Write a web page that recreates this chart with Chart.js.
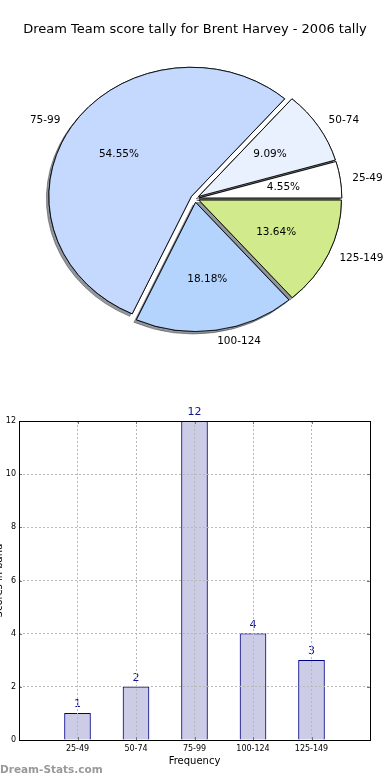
<!DOCTYPE html>
<html>
<head>
<meta charset="utf-8">
<script src="https://cdn.jsdelivr.net/npm/chart.js@4.4.1/dist/chart.umd.min.js"></script>
<style>
    body { margin: 0; background: #fff; }
    #wrap { position: relative; width: 390px; height: 780px; }
    canvas { display: block; }
    #mark {
        position: absolute; left: 0; top: 763px;
        font: bold 10.5px "DejaVu Sans"; line-height: 13px; color: #999;
    }
</style>
</head>
<body>
<div id="wrap">
    <canvas id="pieCanvas" width="390" height="390"></canvas>
    <canvas id="barCanvas" width="390" height="390"></canvas>
    <div id="mark">Dream-Stats.com</div>
</div>
<script>
// Dados
const bands = ['25-49', '50-74', '75-99', '100-124', '125-149'];
const counts = [1, 2, 12, 4, 3];
const yTicks = [0, 2, 4, 6, 8, 10, 12];

// Cores
const pieColours = ['#ffffff', '#e9f0fe', '#c5d9fe', '#b4d4fe', '#d0ea8c'];
const titleText = 'Dream Team score tally for Brent Harvey - 2006 tally';

const FONT = 'DejaVu Sans';
const Y_SQUASH = 0.906;   // a pizza original é elíptica
const EXPLODE = 4.3;

// o Chart.js desenha no sentido horário, então inverte a ordem
const pieLabels = bands.slice().reverse();
const pieValues = counts.slice().reverse();
const pieFill = pieColours.slice().reverse();
const total = counts.reduce((a, b) => a + b, 0);

// Plugin: achata, explode, sombra e rótulos da pizza
const pieLook = {
    id: 'pieLook',
    beforeDatasetsDraw(chart) {
        const ctx = chart.ctx;
        const arcs = chart.getDatasetMeta(0).data;
        const cx = arcs[0].x, cy = arcs[0].y;
        const pass = (shadow) => {
            arcs.forEach((arc) => {
                const mid = (arc.startAngle + arc.endAngle) / 2;
                ctx.save();
                if (shadow) {
                    ctx.shadowColor = 'rgba(40,45,55,0.5)';
                    ctx.shadowOffsetX = -2.5;
                    ctx.shadowOffsetY = 2.5;
                    ctx.shadowBlur = 0.5;
                }
                ctx.translate(cx, cy);
                ctx.scale(1, Y_SQUASH);
                ctx.translate(-cx, -cy);
                ctx.translate(Math.cos(mid) * EXPLODE, Math.sin(mid) * EXPLODE);
                arc.draw(ctx);
                ctx.restore();
            });
        };
        pass(true);
        pass(false);
        return false;
    },
    afterDraw(chart) {
        const ctx = chart.ctx;
        const arcs = chart.getDatasetMeta(0).data;
        ctx.save();
        ctx.fillStyle = '#000';
        ctx.font = '10.5px "' + FONT + '"';
        ctx.textBaseline = 'middle';
        arcs.forEach((arc, i) => {
            const mid = (arc.startAngle + arc.endAngle) / 2;
            const r = arc.outerRadius;
            const dx = Math.cos(mid), dy = Math.sin(mid);
            // percentagem
            ctx.textAlign = 'center';
            const pr = EXPLODE + 0.6 * r;
            ctx.fillText((pieValues[i] / total * 100).toFixed(2) + '%',
                arc.x + dx * pr - 0.5, arc.y + dy * pr * Y_SQUASH);
            // nome da faixa
            const lr = EXPLODE + 1.088 * r;
            ctx.textAlign = dx < 0 ? 'right' : 'left';
            ctx.fillText(pieLabels[i], arc.x + dx * lr - 0.5, arc.y + dy * lr * Y_SQUASH);
        });
        ctx.restore();
    }
};

new Chart(document.getElementById('pieCanvas'), {
    type: 'pie',
    data: {
        labels: pieLabels,
        datasets: [{
            data: pieValues,
            backgroundColor: pieFill,
            borderColor: '#000',
            borderWidth: 0.9
        }]
    },
    options: {
        responsive: false,
        animation: false,
        rotation: 90,
        radius: 142.5,
        layout: { padding: { top: 0, bottom: 30.6, left: 0, right: 0 } },
        plugins: {
            legend: { display: false },
            tooltip: { enabled: false },
            title: {
                display: true,
                text: titleText,
                color: '#000',
                font: { family: FONT, size: 13, weight: 'normal' },
                padding: { top: 22, bottom: 0 }
            }
        }
    },
    plugins: [pieLook]
});

// Plugin: caixa, marcas internas, valores e título do eixo y
const barLook = {
    id: 'barLook',
    afterDatasetsDraw(chart) {
        const ctx = chart.ctx;
        ctx.save();
        ctx.fillStyle = '#14148f';
        ctx.font = '11px "' + FONT + '"';
        ctx.textAlign = 'center';
        ctx.textBaseline = 'middle';
        chart.getDatasetMeta(0).data.forEach((bar, i) => {
            const v = chart.data.datasets[0].data[i];
            if (v == null) return;
            ctx.fillText(String(v), bar.x, bar.y - 9);
        });
        ctx.restore();
    },
    afterDraw(chart) {
        const ctx = chart.ctx;
        const a = chart.chartArea;
        const xs = chart.scales.x, ys = chart.scales.y;
        ctx.save();
        ctx.strokeStyle = '#777';
        ctx.lineWidth = 1;
        ctx.beginPath();
        for (let i = 1; i <= bands.length; i++) {
            const x = Math.round(xs.getPixelForTick(i)) + 0.5;
            ctx.moveTo(x, a.top); ctx.lineTo(x, a.top + 3);
            ctx.moveTo(x, a.bottom); ctx.lineTo(x, a.bottom - 3);
        }
        yTicks.forEach((t) => {
            const y = Math.round(ys.getPixelForValue(t)) + 0.5;
            ctx.moveTo(a.left, y); ctx.lineTo(a.left + 3, y);
            ctx.moveTo(a.right, y); ctx.lineTo(a.right - 3, y);
        });
        ctx.stroke();
        ctx.strokeStyle = '#000';
        ctx.strokeRect(Math.round(a.left) + 0.5, Math.round(a.top) + 0.5,
            Math.round(a.right - a.left), Math.round(a.bottom - a.top));
        // título do eixo y, cortado na borda como no original
        ctx.translate(-1, (a.top + a.bottom) / 2);
        ctx.rotate(-Math.PI / 2);
        ctx.fillStyle = '#000';
        ctx.font = '10px "' + FONT + '"';
        ctx.textAlign = 'center';
        ctx.textBaseline = 'middle';
        ctx.fillText('Scores in band', 0, 0);
        ctx.restore();
    }
};

new Chart(document.getElementById('barCanvas'), {
    type: 'bar',
    data: {
        labels: [''].concat(bands, ['']),
        datasets: [{
            data: [null].concat(counts, [null]),
            backgroundColor: '#ccccE6',
            borderColor: '#000088',
            borderWidth: 1,
            barThickness: 26
        }]
    },
    options: {
        responsive: false,
        animation: false,
        layout: { padding: { top: 31, right: 20, left: 0, bottom: 0 } },
        plugins: {
            legend: { display: false },
            tooltip: { enabled: false }
        },
        scales: {
            x: {
                offset: false,
                grid: { offset: false, color: '#b8b8b8', lineWidth: 1, drawTicks: false, z: 1 },
                border: { display: false, dash: [2, 2] },
                ticks: { color: '#000', font: { family: FONT, size: 8 }, padding: 4, maxRotation: 0, autoSkip: false },
                title: {
                    display: true, text: 'Frequency', color: '#000',
                    font: { family: FONT, size: 10 }, padding: { top: 0, bottom: 13 }
                },
                afterFit: (s) => { s.height = 40; }
            },
            y: {
                min: 0, max: 12,
                afterBuildTicks: (s) => { s.ticks = yTicks.map((v) => ({ value: v })); },
                grid: { color: '#b8b8b8', lineWidth: 1, drawTicks: false, z: 1 },
                border: { display: false, dash: [2, 2] },
                ticks: { color: '#000', font: { family: FONT, size: 8 }, padding: 3 },
                afterFit: (s) => { s.width = 19; }
            }
        }
    },
    plugins: [barLook]
});
</script>
</body>
</html>
